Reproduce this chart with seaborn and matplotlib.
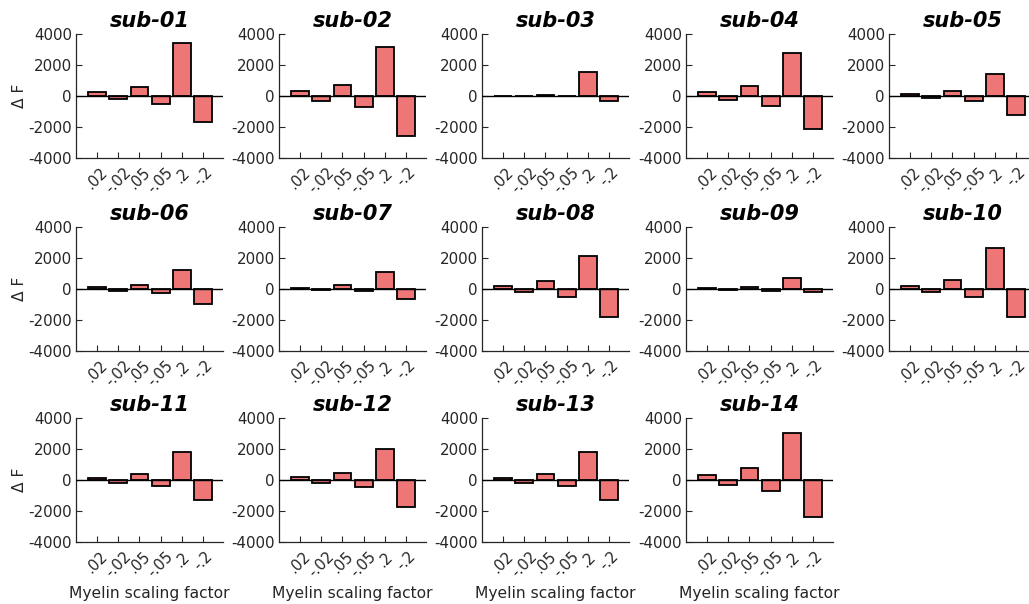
import matplotlib
matplotlib.use("Agg")
import matplotlib.pyplot as plt
import seaborn as sns
import pandas as pd

factors = [".02", "-.02", ".05", "-.05", ".2", "-.2"]
subjects = ["sub-01", "sub-02", "sub-03", "sub-04", "sub-05", "sub-06", "sub-07",
            "sub-08", "sub-09", "sub-10", "sub-11", "sub-12", "sub-13", "sub-14"]

sub01 = [250, -210, 600, -540, 3440, -1650]
sub02 = [300, -300, 730, -730, 3150, -2570]
sub03 = [-30, 20, 40, -20, 1520, -340]
sub04 = [240, -250, 620, -620, 2780, -2120]
sub05 = [110, -140, 340, -340, 1430, -1240]
sub06 = [100, -120, 280, -280, 1250, -950]
sub07 = [80, -50, 230, -150, 1100, -670]
sub08 = [190, -210, 520, -490, 2140, -1830]
sub09 = [40, -40, 120, -100, 710, -190]
sub10 = [220, -210, 560, -540, 2650, -1830]
sub11 = [150, -170, 380, -380, 1790, -1300]
sub12 = [170, -190, 450, -450, 1970, -1710]
sub13 = [150, -170, 390, -380, 1790, -1300]
sub14 = [300, -300, 770, -690, 3060, -2400]

values = [sub01, sub02, sub03, sub04, sub05, sub06, sub07,
          sub08, sub09, sub10, sub11, sub12, sub13, sub14]

rows = []
for s, vals in zip(subjects, values):
    for f, v in zip(factors, vals):
        rows.append({"subject": s, "factor": f, "dF": v})
df = pd.DataFrame(rows)

sns.set_theme(style="ticks")
plt.rcParams["font.family"] = ["DejaVu Sans"]

W, H = 1029, 604
fig = plt.figure(figsize=(W / 100, H / 100), dpi=100)

col_left = [76, 279, 482, 686, 889]
row_top = [34, 227, 418]
ax_w, ax_h = 147, 124
bar_color = "#EE7676"
text_col = "#262626"

for i, s in enumerate(subjects):
    r, c = divmod(i, 5)
    x0 = col_left[c]
    y0 = row_top[r]
    ax = fig.add_axes([x0 / W, 1 - (y0 + ax_h) / H, ax_w / W, ax_h / H])
    sub = df[df["subject"] == s]
    sns.barplot(data=sub, x="factor", y="dF", order=factors, color=bar_color,
                saturation=1, edgecolor="black", linewidth=1.3, width=0.84, ax=ax)
    ax.axhline(0, color="black", lw=1.0, zorder=5)
    ax.set_xlim(-0.98, 5.92)
    ax.set_ylim(-4000, 4000)
    ax.set_yticks([-4000, -2000, 0, 2000, 4000])
    ax.set_yticklabels(["-4000", "-2000", "0", "2000", "4000"])
    ax.tick_params(direction="in", length=4, width=0.8, labelsize=10.8,
                   colors=text_col, pad=3)
    ax.tick_params(axis="x", pad=5)
    for lab in ax.get_xticklabels():
        lab.set_rotation(45)
        lab.set_ha("center")
        lab.set_va("top")
    for sp in ["top", "right"]:
        ax.spines[sp].set_visible(False)
    for sp in ["left", "bottom"]:
        ax.spines[sp].set_color(text_col)
        ax.spines[sp].set_linewidth(0.9)
    ax.set_title(s, fontsize=15, fontweight="bold", fontstyle="italic",
                 color="black", pad=5)
    if c == 0:
        ax.set_ylabel("Δ F", fontsize=11.2, color=text_col, labelpad=1)
    else:
        ax.set_ylabel("")
    if r == 2:
        ax.set_xlabel("Myelin scaling factor", fontsize=11.2, color=text_col, labelpad=4)
    else:
        ax.set_xlabel("")

fig.savefig("out.png", dpi=100, facecolor="white")
